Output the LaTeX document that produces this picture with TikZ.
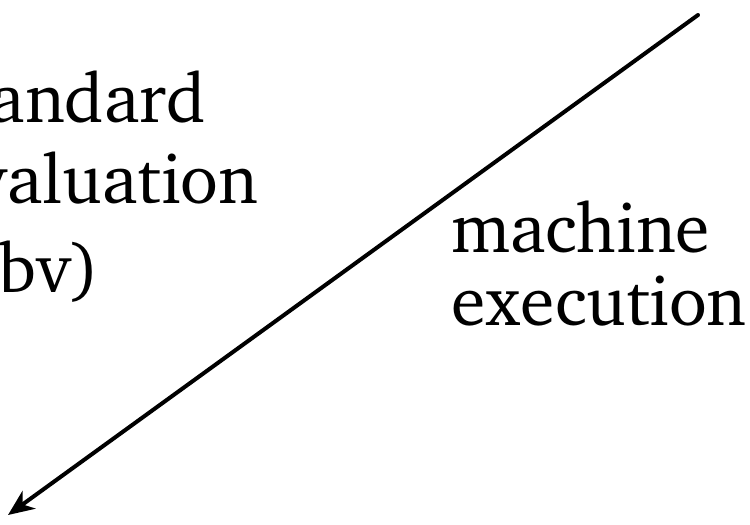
\documentclass[tikz,border=0pt]{standalone}
\IfFileExists{charter.sty}{\usepackage[T1]{fontenc}\usepackage{charter}}{\usepackage{fontspec}\setmainfont{DejaVu Serif}}
\usetikzlibrary{arrows.meta}
\tikzset{
  lbl/.style={inner sep=0pt, anchor=base west, font=\fontsize{70}{80}\selectfont},
  conn/.style={line width=4pt, line cap=round, -{Stealth[length=26pt,width=22pt,inset=8pt]}}
}
\begin{document}
\begin{tikzpicture}[x=1pt,y=-1pt]
\useasboundingbox (0,0) rectangle (750,525);
\node[lbl] (l1) at (-62,122) {standard};
\node[lbl] (l2) at (-62,203) {evaluation};
\node[lbl] (l3) at (-62,292) {(cbv)};
\node[lbl] (r1) at (451,252) {machine};
\node[lbl] (r2) at (451,325) {execution};
\coordinate (top) at (698,15);
\coordinate (tip) at (8,515);
\draw[conn] (top) -- (tip);
\end{tikzpicture}
\end{document}
